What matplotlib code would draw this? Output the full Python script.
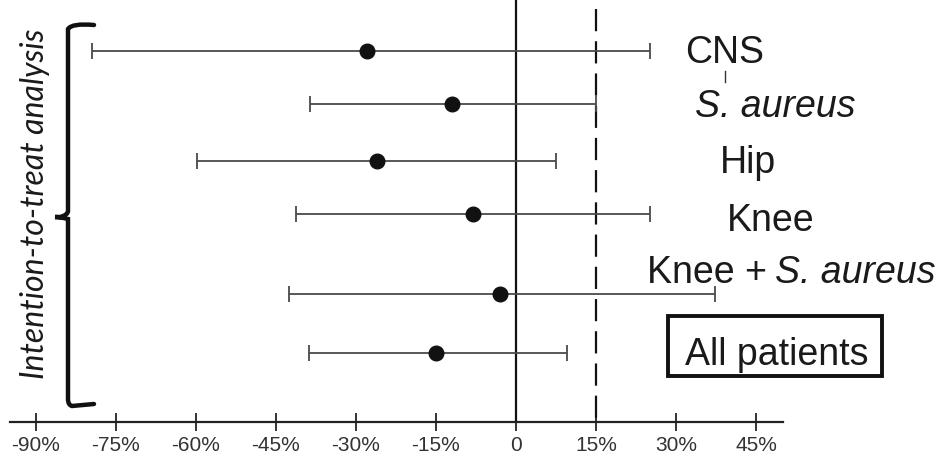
import matplotlib
matplotlib.use("Agg")
import matplotlib.pyplot as plt
from matplotlib.path import Path
from matplotlib.patches import PathPatch, Rectangle

# values (percent)
groups = ["CNS", "S. aureus", "Hip", "Knee", "Knee + S. aureus", "All patients"]
estimate = [-27.9, -12.0, -26.1, -8.1, -3.0, -15.0]
lower = [-79.5, -38.6, -59.8, -41.3, -42.6, -38.8]
upper = [25.1, 15.0, 7.5, 25.1, 37.3, 9.6]
tick_values = [-90, -75, -60, -45, -30, -15, 0, 15, 30, 45]
tick_labels = ["-90%", "-75%", "-60%", "-45%", "-30%", "-15%", "0", "15%", "30%", "45%"]
ref_line = 15

W, H = 941, 456
row_y = [52, 105, 162, 215, 295, 354]   # pixel rows, layout only

fig = plt.figure(figsize=(W / 100, H / 100), dpi=100)

# axis line sits at y=423px, spans x 10..783px
ax_left, ax_right, ax_bottom = 10, 783, 423
ax = fig.add_axes([ax_left / W, (H - ax_bottom) / H, (ax_right - ax_left) / W, ax_bottom / H])
px_per_pct = 80 / 15
x0_px = 516
ax.set_xlim((ax_left - x0_px) / px_per_pct, (ax_right - x0_px) / px_per_pct)
ax.set_ylim(ax_bottom, 0)
for s in ["top", "right", "left"]:
    ax.spines[s].set_visible(False)
ax.spines["bottom"].set_linewidth(1.6)
ax.spines["bottom"].set_color("#222222")
ax.set_yticks([])
ax.set_xticks(tick_values)
ax.set_xticklabels(tick_labels, fontfamily=["Liberation Sans Narrow", "Liberation Sans"],
                   fontsize=15, color="#333333")
ax.tick_params(axis="x", direction="inout", length=13, width=1.3, color="#222222", pad=3)
ax.patch.set_visible(False)

ax.axvline(0, color="#111111", lw=1.6)
ax.plot([ref_line, ref_line], [10, ax_bottom], color="#111111", lw=1.6, dashes=(10, 4.5))

for y, est, lo, hi in zip(row_y, estimate, lower, upper):
    ax.errorbar([est], [y], xerr=[[est - lo], [hi - est]], fmt="o", color="#111111",
                ecolor="#4a4a4a", elinewidth=1.3, capsize=6, capthick=1.3, markersize=10.5)

# overlay in figure pixels for labels, bracket, side text
ov = fig.add_axes([0, 0, 1, 1])
ov.set_xlim(0, W)
ov.set_ylim(H, 0)
ov.axis("off")
ov.patch.set_visible(False)

lab = dict(fontfamily="Liberation Sans", fontsize=27, color="#1a1a1a", ha="left")
ov.text(685, 63, groups[0], va="baseline", **lab)
ov.text(695, 117, groups[1], style="italic", va="baseline", **lab)
ov.plot([725, 725], [72, 83], color="#333333", lw=1)
ov.text(720, 173, groups[2], va="baseline", **lab)
ov.text(727, 231, groups[3], va="baseline", **lab)
t = ov.text(647, 283, "Knee +", va="baseline", **lab)
ov.annotate("S. aureus", xy=(1, 0), xycoords=t, xytext=(8, 0), textcoords="offset pixels",
            style="italic", va="bottom", **lab)
ov.text(777, 365, groups[5], fontfamily="Liberation Sans", fontsize=27, color="#1a1a1a",
        va="baseline", ha="center")
ov.add_patch(Rectangle((668, 317), 214, 60, fc="none", ec="#111111", lw=2.8))

verts = [(94, 26), (72, 24), (68, 30), (68, 60),
         (68, 205), (68, 205), (68, 212), (68, 216), (60, 218), (55, 218),
         (60, 218), (68, 220), (68, 226),
         (68, 226), (68, 226), (68, 400),
         (68, 406), (72, 407), (94, 405)]
codes = [Path.MOVETO, Path.CURVE3, Path.CURVE3, Path.LINETO,
         Path.LINETO, Path.LINETO, Path.LINETO, Path.CURVE3, Path.CURVE3, Path.LINETO,
         Path.CURVE3, Path.CURVE3, Path.LINETO,
         Path.LINETO, Path.LINETO, Path.LINETO,
         Path.CURVE3, Path.CURVE3, Path.LINETO]
ov.add_patch(PathPatch(Path(verts, codes), fc="none", ec="#111111", lw=3.2, capstyle="round"))

ov.text(35, 204, "Intention-to-treat analysis", rotation=90, ha="center", va="center",
        fontfamily="Lato", style="italic", fontsize=23, color="#1a1a1a")

fig.savefig("out.png", dpi=100)
